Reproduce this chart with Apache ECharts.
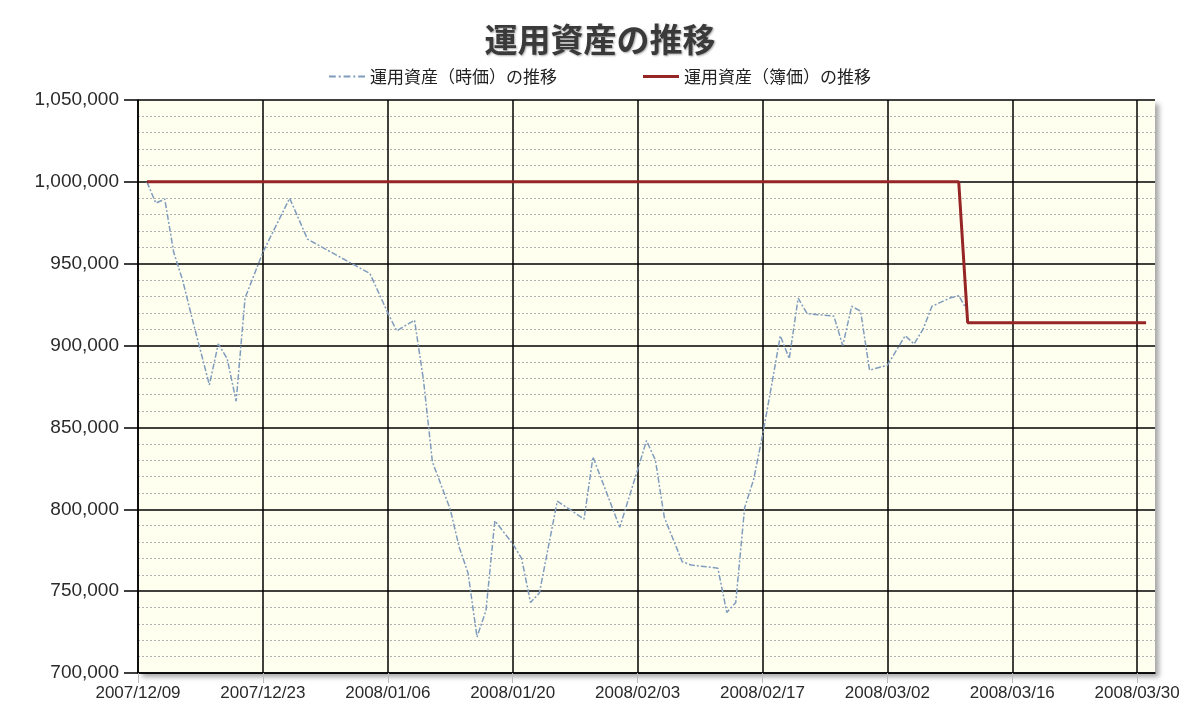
<!DOCTYPE html>
<html>
<head>
<meta charset="utf-8">
<script src="https://cdn.jsdelivr.net/npm/echarts@6/dist/echarts.min.js"></script>
<style>
html,body{margin:0;padding:0;background:#fff;}
#c{width:1200px;height:722px;}
</style>
</head>
<body>
<div id="c"></div>
<script>
// ---- data ----
const titleText = '運用資産の推移';
const seriesNames = ['運用資産（時価）の推移', '運用資産（簿価）の推移'];
const xStartDate = '2007/12/09';
const xEndDate = '2008/04/01';

const marketDates = [
  '2007/12/10','2007/12/11','2007/12/12','2007/12/13','2007/12/14','2007/12/15','2007/12/16','2007/12/17',
  '2007/12/18','2007/12/19','2007/12/20','2007/12/21','2007/12/23','2007/12/26','2007/12/28','2008/01/04',
  '2008/01/06','2008/01/07','2008/01/09','2008/01/10','2008/01/11','2008/01/13','2008/01/14','2008/01/15',
  '2008/01/16','2008/01/17','2008/01/18','2008/01/20','2008/01/21','2008/01/22','2008/01/23','2008/01/25',
  '2008/01/28','2008/01/29','2008/02/01','2008/02/03','2008/02/04','2008/02/05','2008/02/06','2008/02/08',
  '2008/02/09','2008/02/12','2008/02/13','2008/02/14','2008/02/15','2008/02/16','2008/02/17','2008/02/18',
  '2008/02/19','2008/02/20','2008/02/21','2008/02/22','2008/02/25','2008/02/26','2008/02/27','2008/02/28',
  '2008/02/29','2008/03/02','2008/03/04','2008/03/05','2008/03/06','2008/03/07','2008/03/09','2008/03/10',
  '2008/03/11'
];
const marketValues = [
  1000000, 987000, 989500, 957000, 940000, 918000, 897000, 876000,
  901000, 892000, 866000, 929000, 957000, 990000, 965000, 944000,
  920000, 909000, 915500, 879000, 829000, 800000, 777000, 761000,
  722000, 738000, 793000, 779000, 770000, 743000, 749000, 805000,
  794000, 832000, 789000, 824000, 842000, 830000, 795000, 768000,
  766000, 764000, 737000, 743000, 801000, 818000, 845000, 875000,
  906000, 892000, 929000, 919500, 918000, 900000, 924000, 921000,
  885000, 888000, 906000, 901000, 910000, 924000, 929000, 930500,
  921000
];

const bookDates = ['2007/12/10', '2008/03/10', '2008/03/11', '2008/03/31'];
const bookValues = [1000000, 1000000, 914000, 914000];

const yMin = 700000, yMax = 1050000, yStep = 50000;
const xStepDays = 14;

// ---- helpers ----
function toUTC(s){ const p = s.split('/').map(Number); return Date.UTC(p[0], p[1]-1, p[2]); }
const base = toUTC(xStartDate);
function dayOffset(s){ return Math.round((toUTC(s) - base) / 86400000); }
function offsetToLabel(v){
  const d = new Date(base + v * 86400000);
  const mm = String(d.getUTCMonth()+1).padStart(2,'0');
  const dd = String(d.getUTCDate()).padStart(2,'0');
  return d.getUTCFullYear() + '/' + mm + '/' + dd;
}
const xMax = dayOffset(xEndDate);
const marketData = marketDates.map((d,i)=>[dayOffset(d), marketValues[i]]);
const bookData = bookDates.map((d,i)=>[dayOffset(d), bookValues[i]]);

// vertical split line colours: all black except the extra one at the right edge
const nXLines = Math.floor(xMax / xStepDays) + 1 + (xMax % xStepDays ? 1 : 0);
const xLineColors = [];
for (let i=0;i<nXLines;i++) xLineColors.push(i === nXLines-1 && xMax % xStepDays ? 'rgba(0,0,0,0)' : '#000');

// narrow font for the date labels if available
const cv = document.createElement('canvas').getContext('2d');
cv.font = '20px "Liberation Sans Narrow", monospace';
const wNarrow = cv.measureText('2007/12/09').width;
cv.font = '20px monospace';
const wMono = cv.measureText('2007/12/09').width;
const hasNarrow = Math.abs(wNarrow - wMono) > 0.5;
const xLabelFont = hasNarrow ? 'Liberation Sans Narrow' : 'Liberation Sans';
const xLabelSize = hasNarrow ? 20 : 17;

const blueIcon = 'path://M0,0h7v2h-7zM10,0h2v2h-2zM15,0h7v2h-7zM25,0h2v2h-2zM30,0h7v2h-7z';
const redIcon = 'path://M0,0h37v3h-37z';

const chart = echarts.init(document.getElementById('c'));
chart.setOption({
  backgroundColor: '#ffffff',
  animation: false,
  title: {
    text: titleText,
    left: 'center',
    top: 18,
    textStyle: {
      fontFamily: 'Noto Sans CJK JP',
      fontSize: 33,
      fontWeight: 'bold',
      color: '#3a3a3a',
      textShadowColor: 'rgba(0,0,0,0.35)',
      textShadowBlur: 2,
      textShadowOffsetX: 1,
      textShadowOffsetY: 1
    }
  },
  legend: {
    top: 63,
    left: 'center',
    itemWidth: 36,
    itemHeight: 3,
    itemGap: 86,
    textStyle: { fontFamily: 'Noto Sans CJK JP', fontSize: 17, color: '#222' },
    data: [
      { name: seriesNames[0], icon: blueIcon },
      { name: seriesNames[1], icon: redIcon }
    ]
  },
  grid: {
    left: 138, right: 45, top: 100, bottom: 49,
    show: true,
    backgroundColor: '#FFFFF0',
    borderWidth: 0,
    shadowColor: 'rgba(0,0,0,0.35)',
    shadowBlur: 5,
    shadowOffsetX: 4,
    shadowOffsetY: 4
  },
  xAxis: {
    type: 'value',
    min: 0,
    max: xMax,
    interval: xStepDays,
    axisLine: { show: true, onZero: false, lineStyle: { color: '#000', width: 1.5 } },
    axisTick: { show: true, length: 10, lineStyle: { color: '#bbbbbb' } },
    axisLabel: {
      showMaxLabel: false,
      margin: 12,
      fontFamily: xLabelFont,
      fontSize: xLabelSize,
      color: '#2a2a2a',
      formatter: v => offsetToLabel(v)
    },
    splitLine: { show: true, lineStyle: { color: xLineColors, width: 1.5 } }
  },
  yAxis: {
    type: 'value',
    min: yMin,
    max: yMax,
    interval: yStep,
    axisLine: { show: true, lineStyle: { color: '#000', width: 1.5 } },
    axisTick: { show: true, length: 14, lineStyle: { color: '#000', width: 1.5 } },
    axisLabel: {
      margin: 19,
      fontFamily: 'Liberation Sans',
      fontSize: 19,
      color: '#2a2a2a',
      formatter: v => v.toLocaleString('en-US')
    },
    splitLine: { show: true, lineStyle: { color: '#000', width: 1.5 } },
    minorTick: { show: false, splitNumber: 5 },
    minorSplitLine: { show: true, lineStyle: { color: '#b0b0b0', type: [2, 2], width: 1 } }
  },
  series: [
    {
      name: seriesNames[0],
      type: 'line',
      data: marketData,
      symbol: 'none',
      z: 3,
      lineStyle: { color: '#7f9cbd', width: 1.5, type: [6, 2, 2, 2] },
      itemStyle: { color: '#7f9cbd' }
    },
    {
      name: seriesNames[1],
      type: 'line',
      data: bookData,
      symbol: 'none',
      z: 4,
      lineStyle: { color: '#962626', width: 3 },
      itemStyle: { color: '#962626' }
    }
  ]
});
</script>
</body>
</html>
